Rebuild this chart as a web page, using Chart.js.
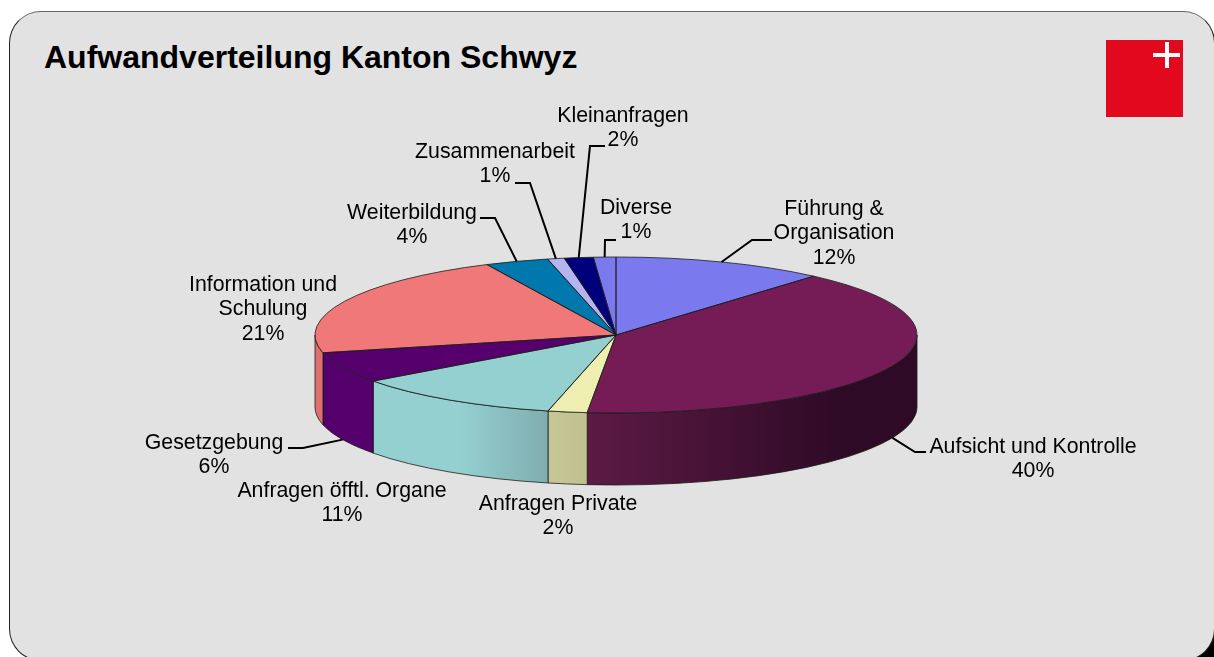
<!DOCTYPE html>
<html lang="de">
<head>
    <meta charset="UTF-8">
    <title>Aufwandverteilung Kanton Schwyz</title>
    <script src="https://cdn.jsdelivr.net/npm/chart.js"></script>
    <style>
        html, body {
            margin: 0;
            padding: 0;
            background: #fff;
            overflow: hidden;
        }
        .page {
            position: relative;
            width: 1214px;
            height: 657px;
            overflow: hidden;
        }
        .corner {
            position: absolute;
            right: 0;
            bottom: 0;
            width: 24px;
            height: 24px;
            background: #000;
        }
        .card {
            position: absolute;
            left: 9px;
            top: 11px;
            width: 1206px;
            height: 650px;
            box-sizing: border-box;
            background: #e2e2e2;
            border: 1px solid #222;
            border-top-color: #666;
            border-radius: 32px;
        }
        h1 {
            position: absolute;
            left: 44px;
            top: 39px;
            margin: 0;
            font: bold 32px/36px "Liberation Sans", Arial, sans-serif;
            color: #000;
        }
        .logo {
            position: absolute;
            left: 1106px;
            top: 40px;
            width: 77px;
            height: 77px;
            background: #e2091f;
        }
        .logo i {
            position: absolute;
            background: #fff;
        }
        canvas {
            position: absolute;
            left: 0;
            top: 0;
        }
    </style>
</head>
<body>
<div class="page">
    <div class="corner"></div>
    <div class="card"></div>
    <h1>Aufwandverteilung Kanton Schwyz</h1>
    <div class="logo">
        <i style="left:47px;top:13px;width:27px;height:4px"></i>
        <i style="left:59px;top:2px;width:4px;height:26px"></i>
    </div>
    <canvas id="pie" width="1214" height="657"></canvas>
</div>

<script>
    const categories = [
        ['Führung &', 'Organisation'],
        ['Aufsicht und Kontrolle'],
        ['Anfragen Private'],
        ['Anfragen öfftl. Organe'],
        ['Gesetzgebung'],
        ['Information und', 'Schulung'],
        ['Weiterbildung'],
        ['Zusammenarbeit'],
        ['Kleinanfragen'],
        ['Diverse']
    ];
    const values = [11.4, 40.1, 2.1, 11.3, 6.4, 21.6, 3.4, 0.9, 1.55, 1.2];
    const percentLabels = ['12%', '40%', '2%', '11%', '6%', '21%', '4%', '1%', '2%', '1%'];

    const topColors = ['#7a7aee', '#751c57', '#eeeeb0', '#94d0d0', '#56006e',
        '#f07878', '#0078ae', '#b4b4f0', '#00007c', '#7a7aee'];
    // colours of the side wall, left to right
    const wallColors = [null, ['#5c1a44', '#2e0a26'], ['#c6c698', '#c0c08e'], ['#94d0d0', '#80adb0'],
        ['#56006e', '#56006e'], ['#e07070', '#e07070'], null, null, null, null];
    const wallGradientX = [null, [588, 840], [548, 588], [460, 548], [322, 373], [315, 322], null, null, null, null];

    // label centre x, first line y
    const labelPos = [[834, 209], [1033, 447], [558, 504], [342, 491], [214, 443],
        [263, 285], [412, 213], [495, 152], [623, 116], [636, 208]];
    // leader line bends, the rim end comes from the arc itself
    const leaderBends = [
        [[752, 240], [772, 240]],
        [[915, 452], [926, 452]],
        null,
        null,
        [[303, 448], [288, 448]],
        null,
        [[495, 218], [480, 218]],
        [[530, 183], [515, 183]],
        [[590, 146], [605, 146]],
        [[605, 240], [616, 240]]
    ];

    const squash = 78 / 301;
    const depth = 72;
    const lineColor = '#1c1c1c';

    const pie3d = {
        id: 'pie3d',
        beforeDatasetsDraw(chart) {
            const ctx = chart.ctx;
            const arcs = chart.getDatasetMeta(0).data;
            const { x, y, outerRadius: r } = arcs[0];
            const ry = r * squash;

            // side walls, only the front half shows
            arcs.forEach((arc, i) => {
                const a0 = Math.max(arc.startAngle, 0);
                const a1 = Math.min(arc.endAngle, Math.PI);
                if (a1 <= a0 || !wallColors[i]) return;
                const grad = ctx.createLinearGradient(wallGradientX[i][0], 0, wallGradientX[i][1], 0);
                grad.addColorStop(0, wallColors[i][0]);
                grad.addColorStop(1, wallColors[i][1]);
                ctx.beginPath();
                ctx.ellipse(x, y, r, ry, 0, a0, a1);
                ctx.ellipse(x, y + depth, r, ry, 0, a1, a0, true);
                ctx.closePath();
                ctx.fillStyle = grad;
                ctx.fill();
                ctx.strokeStyle = lineColor;
                ctx.lineWidth = 0.8;
                ctx.stroke();
            });

            ctx.save();
            ctx.translate(x, y);
            ctx.scale(1, squash);
            ctx.translate(-x, -y);
        },
        afterDatasetsDraw(chart) {
            const ctx = chart.ctx;
            ctx.restore();

            const arcs = chart.getDatasetMeta(0).data;
            const { x, y, outerRadius: r } = arcs[0];
            const ry = r * squash;

            // slice outlines
            ctx.strokeStyle = lineColor;
            ctx.lineWidth = 0.8;
            arcs.forEach(arc => {
                ctx.beginPath();
                ctx.moveTo(x, y);
                ctx.ellipse(x, y, r, ry, 0, arc.startAngle, arc.endAngle);
                ctx.closePath();
                ctx.stroke();
            });

            // leader lines
            ctx.strokeStyle = '#000';
            ctx.lineWidth = 2;
            arcs.forEach((arc, i) => {
                if (!leaderBends[i]) return;
                const mid = (arc.startAngle + arc.endAngle) / 2;
                const rimY = y + ry * Math.sin(mid) + (Math.sin(mid) > 0 ? depth : 0);
                ctx.beginPath();
                ctx.moveTo(x + r * Math.cos(mid), rimY);
                leaderBends[i].forEach(p => ctx.lineTo(p[0], p[1]));
                ctx.stroke();
            });

            // labels
            ctx.fillStyle = '#000';
            ctx.font = '21.3px "Liberation Sans", Arial, sans-serif';
            ctx.textAlign = 'center';
            ctx.textBaseline = 'middle';
            categories.forEach((lines, i) => {
                [...lines, percentLabels[i]].forEach((text, n) => {
                    ctx.fillText(text, labelPos[i][0], labelPos[i][1] + n * 24.6);
                });
            });
        }
    };

    new Chart(document.getElementById('pie').getContext('2d'), {
        type: 'pie',
        data: {
            labels: categories.map(c => c.join(' ')),
            datasets: [{
                data: values,
                backgroundColor: topColors,
                borderWidth: 0
            }]
        },
        options: {
            responsive: false,
            animation: false,
            layout: { padding: { left: 315, right: 297, top: 34, bottom: 21 } },
            plugins: {
                legend: { display: false },
                tooltip: { enabled: false }
            }
        },
        plugins: [pie3d]
    });
</script>
</body>
</html>
